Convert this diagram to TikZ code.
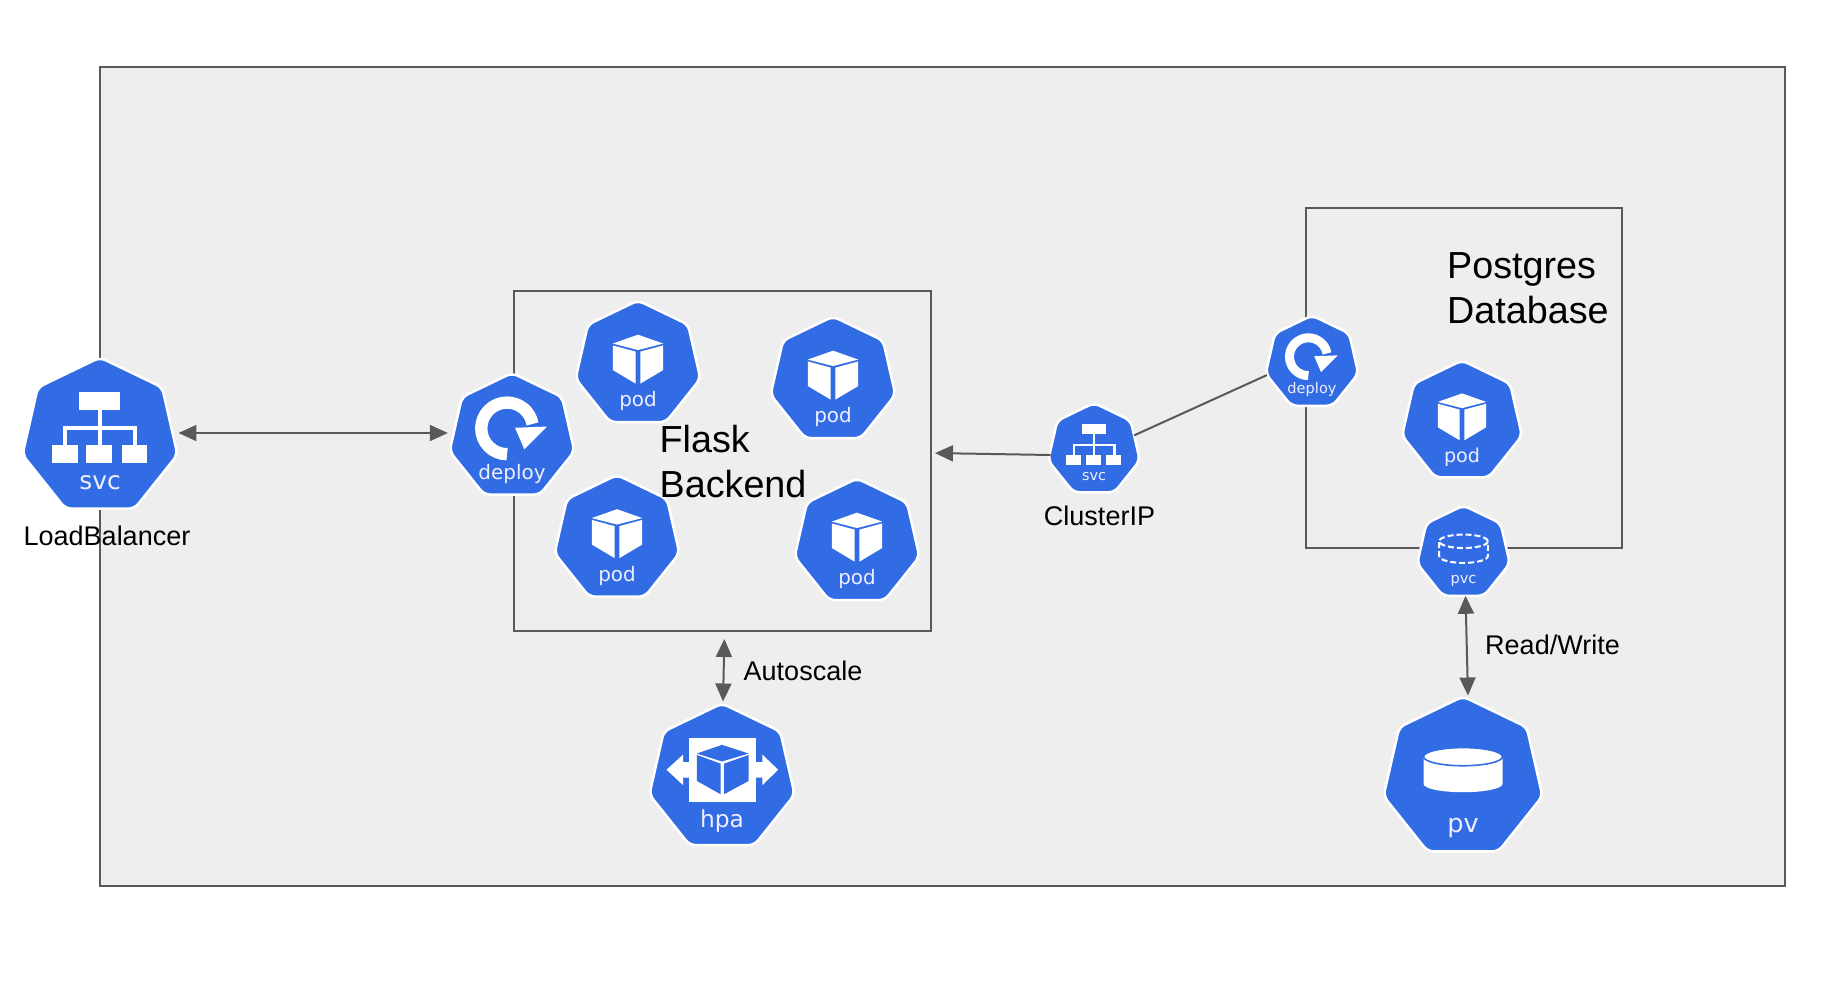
\documentclass[tikz,border=0pt]{standalone}
\usepackage{fontspec}
\setmainfont{Liberation Sans}
\newfontfamily\kubefont{DejaVu Sans}
\usetikzlibrary{shapes.geometric,arrows.meta}

\definecolor{kubeblue}{HTML}{326CE5}
\definecolor{kubetext}{HTML}{EEEEFF}
\definecolor{clustergray}{HTML}{EEEEEE}
\definecolor{linegray}{HTML}{595959}

\tikzset{
	kube/.style={regular polygon, regular polygon sides=7, fill=kubeblue, draw=white,
		line width=2.5pt, rounded corners=6pt, inner sep=0pt, outer sep=0pt},
	kubebox/.style={draw=linegray, line width=1.8pt, inner sep=0pt, outer sep=0pt},
	kubelabel/.style={text=kubetext, inner sep=0pt, anchor=base},
	titlelabel/.style={align=left, inner sep=0pt, font=\fontsize{37.7}{45}\selectfont},
	smalllabel/.style={inner sep=0pt, font=\fontsize{27}{32}\selectfont},
	flow/.style={draw=linegray, line width=2pt},
	bothtip/.style={flow, {Triangle[length=18pt,width=16pt]}-{Triangle[length=18pt,width=16pt]}},
	onetip/.style={flow, -{Triangle[length=18pt,width=16pt]}}
}

% one icon: name, x, y, radius, text, glyph
\newcommand{\kubeicon}[6]{
	\node[kube, minimum size=2*#4+5] (#1) at (#2,#3) {};
	\pgfmathsetmacro{\ksize}{0.324*#4}
	\node[kubelabel, font=\kubefont\fontsize{\ksize}{\ksize}\selectfont] (#1label) at (#2,#3+0.684*#4) {#5};
	\begin{scope}[shift={(#2,#3)}, x=#4pt, y=-#4pt]
		\def\kr{#4}
		#6
	\end{scope}
}

\newcommand{\kubesvc}{
	\fill[white] (-0.27,-0.58) rectangle (0.26,-0.35);
	\foreach \x in {-0.625,-0.18,0.28} {
		\fill[white] (\x,0.11) rectangle (\x+0.335,0.34);
	}
	\draw[white, line width=0.05*\kr pt] (-0.005,-0.35) -- (-0.005,0.11);
	\draw[white, line width=0.05*\kr pt] (-0.45,0.11) -- (-0.45,-0.12) -- (0.46,-0.12) -- (0.46,0.11);
}
\newcommand{\kubedeploy}{
	\draw[white, line width=0.2*\kr pt] (-0.08,0.28) arc[start angle=90, end angle=350, radius=0.42];
	\fill[white] (0.05,-0.15) -- (0.57,-0.17) -- (0.2,0.2) -- cycle;
}
\newcommand{\kubepod}{
	\fill[white] (0,-0.485) -- (0.41,-0.34) -- (0,-0.235) -- (-0.41,-0.34) -- cycle;
	\fill[white] (-0.41,-0.31) -- (-0.04,-0.21) -- (-0.04,0.31) -- (-0.41,0.09) -- cycle;
	\fill[white] (0.41,-0.31) -- (0.04,-0.21) -- (0.04,0.31) -- (0.41,0.09) -- cycle;
}
\newcommand{\kubehpa}{
	\fill[white] (-0.46,-0.555) rectangle (0.47,0.33);
	\fill[white] (-0.46,-0.22) -- (-0.54,-0.22) -- (-0.54,-0.325) -- (-0.77,-0.115) -- (-0.54,0.1) -- (-0.54,-0.005) -- (-0.46,-0.005) -- cycle;
	\fill[white] (0.47,-0.22) -- (0.56,-0.22) -- (0.56,-0.325) -- (0.78,-0.115) -- (0.56,0.1) -- (0.56,-0.005) -- (0.47,-0.005) -- cycle;
	\fill[kubeblue] (0,-0.46) -- (0.37,-0.34) -- (0,-0.23) -- (-0.35,-0.34) -- cycle;
	\fill[kubeblue] (-0.35,-0.32) -- (-0.02,-0.2) -- (-0.02,0.225) -- (-0.35,0.04) -- cycle;
	\fill[kubeblue] (0.37,-0.32) -- (0.03,-0.2) -- (0.03,0.225) -- (0.37,0.04) -- cycle;
}
\newcommand{\kubepvc}{
	\draw[white, line width=0.045*\kr pt, dash pattern=on 6pt off 3pt] (0,-0.26) ellipse [x radius=0.54, y radius=0.15];
	\draw[white, line width=0.045*\kr pt, dash pattern=on 6pt off 3pt] (-0.54,-0.24) -- (-0.54,0.07) arc[start angle=180, end angle=0, x radius=0.54, y radius=0.15] -- (0.54,-0.24);
}
\newcommand{\kubepv}{
	\fill[white] (-0.5,-0.25) -- (-0.5,0.075) arc[start angle=180, end angle=0, x radius=0.5, y radius=0.105] -- (0.5,-0.25) -- cycle;
	\filldraw[fill=white, draw=kubeblue, line width=0.02*\kr pt] (0,-0.27) ellipse [x radius=0.5, y radius=0.115];
}

\begin{document}
\begin{tikzpicture}[x=1pt, y=-1pt]
\useasboundingbox (0,0) rectangle (1840,1006);

\node[kubebox, fill=clustergray, minimum width=1685, minimum height=819] (cluster) at (942.5,476.5) {};
\node[kubebox, minimum width=417, minimum height=340] (flask) at (722.5,461) {};
\node[kubebox, minimum width=316, minimum height=340] (postgres) at (1464,378) {};

\kubeicon{lbsvc}{100}{437}{77}{svc}{\kubesvc}
\kubeicon{lbdeploy}{512}{437}{61.5}{deploy}{\kubedeploy}
\foreach \name/\x/\y in {podone/638/364.5, podtwo/833/380.5, podthree/617/539, podfour/857/542.5} {
	\kubeicon{\name}{\x}{\y}{61.5}{pod}{\kubepod}
}
\kubeicon{dbpod}{1462}{422}{59}{pod}{\kubepod}
\kubeicon{dbdeploy}{1312}{363}{45}{deploy}{\kubedeploy}
\kubeicon{dbsvc}{1094}{450}{44.5}{svc}{\kubesvc}
\kubeicon{dbpvc}{1463.5}{553}{45}{pvc}{\kubepvc}
\kubeicon{hpa}{722}{778}{72}{hpa}{\kubehpa}
\kubeicon{dbpv}{1463}{778}{79}{pv}{\kubepv}

% connectors
\draw[bothtip, shorten <=5pt, shorten >=5pt] ([yshift=4pt]lbsvc.east) -- ([yshift=4pt]lbdeploy.west);
\draw[onetip, shorten >=4pt] ([yshift=-5pt]dbsvc.west) -- ([yshift=8pt]flask.east);
\draw[flow] (dbsvc.20) -- (dbdeploy.195);
\draw[bothtip, shorten <=8pt, shorten >=2pt] ([xshift=2pt]flask.south) -- ([xshift=1pt]hpa.north);
\draw[bothtip, shorten >=1pt] ([xshift=2pt]dbpvc.south) -- ([xshift=5pt]dbpv.north);

\node[titlelabel, anchor=west] (flasklabel) at (659.5,461.5) {Flask\\Backend};
\node[titlelabel, anchor=west] (postgreslabel) at (1447,288) {Postgres\\Database};
\node[smalllabel] (lblabel) at (107,536) {LoadBalancer};
\node[smalllabel] (clusteriplabel) at (1099.5,516) {ClusterIP};
\node[smalllabel] (autoscalelabel) at (803,671) {Autoscale};
\node[smalllabel] (readwritelabel) at (1552.5,645) {Read/Write};
\end{tikzpicture}
\end{document}
